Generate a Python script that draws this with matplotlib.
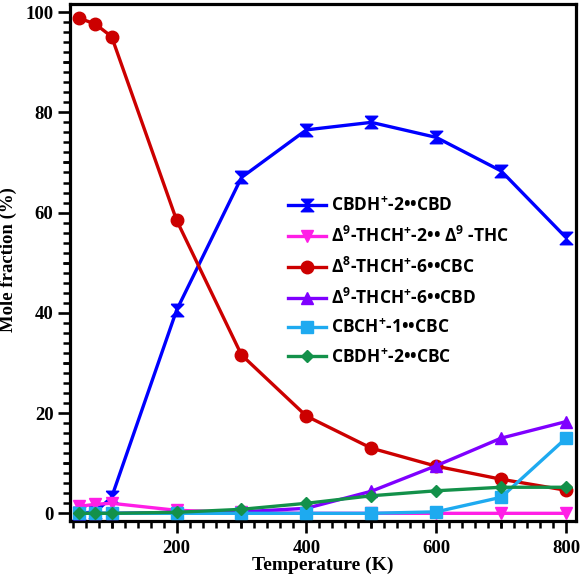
import matplotlib
matplotlib.use("Agg")
import matplotlib.pyplot as plt
import numpy as np

temperature = [50, 75, 100, 200, 300, 400, 500, 600, 700, 800]
cbdh_2_cbd = [0.0, 0.3, 3.2, 40.5, 67.0, 76.5, 78.0, 75.0, 68.3, 55.0]
d9_thch_2_thc = [1.4, 1.8, 2.0, 0.6, 0.2, 0.0, 0.0, 0.0, 0.0, 0.0]
d8_thch_6_cbc = [98.8, 97.6, 95.1, 58.5, 31.6, 19.4, 13.0, 9.4, 6.8, 4.6]
d9_thch_6_cbd = [0.0, 0.0, 0.0, 0.2, 0.3, 1.0, 4.4, 9.5, 15.0, 18.3]
cbch_1_cbc = [0.0, 0.0, 0.0, 0.0, 0.0, 0.0, 0.0, 0.3, 3.2, 15.0]
cbdh_2_cbc = [0.0, 0.0, 0.0, 0.2, 0.8, 2.0, 3.5, 4.5, 5.2, 5.2]

labels = [
    r"CBDH$^{+}$-2••CBD",
    r"$\Delta^{9}$-THCH$^{+}$-2•• $\Delta^{9}$ -THC",
    r"$\Delta^{8}$-THCH$^{+}$-6••CBC",
    r"$\Delta^{9}$-THCH$^{+}$-6••CBD",
    r"CBCH$^{+}$-1••CBC",
    r"CBDH$^{+}$-2••CBC",
]

plt.rcParams['mathtext.fontset'] = 'custom'
plt.rcParams['mathtext.bf'] = 'Open Sans:bold'
plt.rcParams['mathtext.rm'] = 'Open Sans:bold'
plt.rcParams['mathtext.default'] = 'bf'

hourglass = [(-1, 1), (1, 1), (0, 0), (1, -1), (-1, -1), (0, 0), (-1, 1)]

fig = plt.figure(figsize=(5.84, 5.80), dpi=100)
ax = fig.add_axes([0.12, 0.102, 0.866, 0.891])

series = [
    (cbdh_2_cbd, "#0000ff", hourglass, 9),
    (d9_thch_2_thc, "#ff1ee6", "v", 8),
    (d8_thch_6_cbc, "#cc0000", "o", 9),
    (d9_thch_6_cbd, "#7f00ff", "^", 8),
    (cbch_1_cbc, "#1eaaf0", "s", 8),
    (cbdh_2_cbc, "#13914a", "D", 6),
]
order = [1, 0, 3, 2, 4, 5]
handles = [None] * 6
for i in order:
    y, c, m, ms = series[i]
    h, = ax.plot(temperature, y, color=c, marker=m, markersize=ms, lw=2.4,
                 label=labels[i], zorder=3 + i * 0.1)
    handles[i] = h

ax.set_xlim(36, 815)
ax.set_ylim(-1.5, 101.6)
ax.set_xticks([200, 400, 600, 800])
ax.set_xticks([100, 300, 500, 700] + list(np.arange(40, 820, 20)), minor=True)
ax.set_yticks([0, 20, 40, 60, 80, 100])
ax.set_yticks(list(np.arange(0, 101, 10)) + list(np.arange(0, 101, 2)), minor=True)

for s in ax.spines.values():
    s.set_linewidth(2.3)
ax.tick_params(axis='both', which='major', direction='out', length=8.5, width=1.9,
               labelsize=13.5)
ax.tick_params(axis='both', which='minor', direction='out', length=4.8, width=1.8)
ax.tick_params(axis='x', which='major', pad=5)
ax.tick_params(axis='y', which='major', pad=3.5)
ax.tick_params(top=False, right=False)
for lab in ax.get_xticklabels() + ax.get_yticklabels():
    lab.set_fontfamily('Liberation Serif')
    lab.set_fontweight('bold')

ax.set_xlabel("Temperature (K)", fontsize=14, fontweight='bold',
              fontfamily='Liberation Serif', labelpad=0)
ax.set_ylabel("Mole fraction (%)", fontsize=13.5, fontweight='bold',
              fontfamily='Liberation Serif')
ax.yaxis.set_label_coords(-0.104, 0.505)

leg = ax.legend(handles=handles, labels=labels, loc='upper left',
                bbox_to_anchor=(0.43, 0.628), frameon=False,
                prop={'family': 'Open Sans', 'weight': 'bold', 'size': 12.5},
                handlelength=2.2, handletextpad=0.3, labelspacing=0.62,
                borderpad=0, borderaxespad=0)

fig.savefig("out.png", dpi=100)
